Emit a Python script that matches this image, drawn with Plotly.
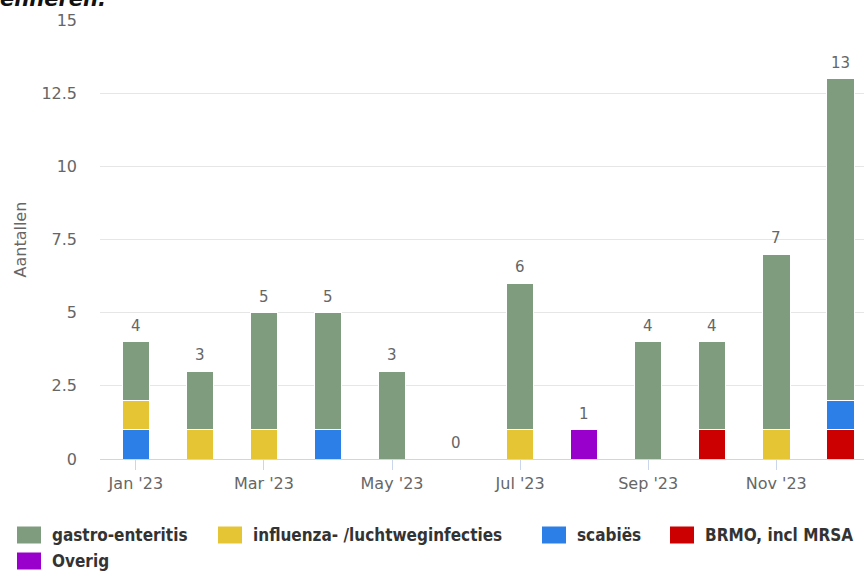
import plotly.graph_objects as go

months = ["Jan '23", "Feb '23", "Mar '23", "Apr '23", "May '23", "Jun '23",
          "Jul '23", "Aug '23", "Sep '23", "Oct '23", "Nov '23", "Dec '23"]
tick_months = ["Jan '23", "Mar '23", "May '23", "Jul '23", "Sep '23", "Nov '23"]

gastro = [2, 2, 4, 4, 3, 0, 5, 0, 4, 3, 6, 11]
influenza = [1, 1, 1, 0, 0, 0, 1, 0, 0, 0, 1, 0]
scabies = [1, 0, 0, 1, 0, 0, 0, 0, 0, 0, 0, 1]
brmo = [0, 0, 0, 0, 0, 0, 0, 0, 0, 1, 0, 1]
overig = [0, 0, 0, 0, 0, 0, 0, 1, 0, 0, 0, 0]

series_names = ["gastro-enteritis", "influenza- /luchtweginfecties", "scabiës",
                "BRMO, incl MRSA", "Overig"]
series_values = [gastro, influenza, scabies, brmo, overig]
series_colors = ["#809c7e", "#e6c535", "#2b7fe6", "#cc0000", "#9900cc"]

totals = [sum(v) for v in zip(*series_values)]

FONT = "DejaVu Sans"
LEG_FONT = "DejaVu Sans Condensed"

W, H = 864, 571
ML, MR, MT, MB = 100, 0, 20, 112
PW, PH = W - ML - MR, H - MT - MB


def px2paper_x(px):
    return (px - ML) / PW


def px2paper_y(py):
    return (H - MB - py) / PH


fig = go.Figure()
# stack from bottom: last series first
for name, vals, col in reversed(list(zip(series_names, series_values, series_colors))):
    fig.add_trace(go.Bar(
        x=months, y=vals, name=name, showlegend=False,
        marker=dict(color=col, line=dict(color="white", width=1)),
        width=0.43,
    ))

annotations = []
for m, t in zip(months, totals):
    annotations.append(dict(x=m, y=t, xref="x", yref="y", text=str(t), showarrow=False,
                            yanchor="bottom", yshift=5,
                            font=dict(family=FONT, size=15, color="#666666")))
annotations.append(dict(x=0, y=0.5, xref="paper", yref="paper", text="Aantallen",
                        showarrow=False, textangle=-90, xshift=-80,
                        xanchor="center", yanchor="middle",
                        font=dict(family=FONT, size=16, color="#666666")))
annotations.append(dict(x=0, y=1, xref="paper", yref="paper", text="enheren.",
                        showarrow=False, xanchor="left", yanchor="middle",
                        xshift=-102, yshift=21,
                        font=dict(family=FONT, size=21, color="#111111", style="italic",
                                  weight="bold")))

# manual legend (larger swatches as in the reference)
legend_rows = [535, 535, 535, 535, 561]
legend_text_x = [50, 251, 575, 703, 50]
shapes = []
for name, col, tx, ry in zip(series_names, series_colors, legend_text_x, legend_rows):
    shapes.append(dict(type="rect", xref="paper", yref="paper",
                       x0=px2paper_x(tx - 33), x1=px2paper_x(tx - 9),
                       y0=px2paper_y(ry + 8.5), y1=px2paper_y(ry - 8.5),
                       fillcolor=col, line=dict(width=0), layer="above"))
    annotations.append(dict(x=px2paper_x(tx), y=px2paper_y(ry), xref="paper", yref="paper",
                            text=name, showarrow=False, xanchor="left", yanchor="middle",
                            font=dict(family=LEG_FONT, size=17, color="#333333",
                                      weight="bold")))

fig.update_layout(
    width=W, height=H,
    margin=dict(l=ML, r=MR, t=MT, b=MB),
    barmode="stack",
    plot_bgcolor="white", paper_bgcolor="white",
    font=dict(family=FONT, size=16, color="#666666"),
    showlegend=False,
    annotations=annotations,
    shapes=shapes,
    xaxis=dict(type="category", categoryorder="array", categoryarray=months,
               range=[-0.56, 11.37], tickmode="array", tickvals=tick_months,
               ticktext=tick_months, showline=True, linecolor="#ccd6eb", linewidth=1,
               ticks="outside", ticklen=10, tickcolor="#ccd6eb", showgrid=False,
               tickfont=dict(family=FONT, size=16, color="#666666")),
    yaxis=dict(range=[0, 15], dtick=2.5, showgrid=True, gridcolor="#e6e6e6",
               zeroline=False, ticklabelstandoff=22, tickformat="~g",
               tickfont=dict(family=FONT, size=16, color="#666666")),
)

fig.write_html("out.html", config={"displayModeBar": False},
               post_script="document.body.style.margin='0';")
